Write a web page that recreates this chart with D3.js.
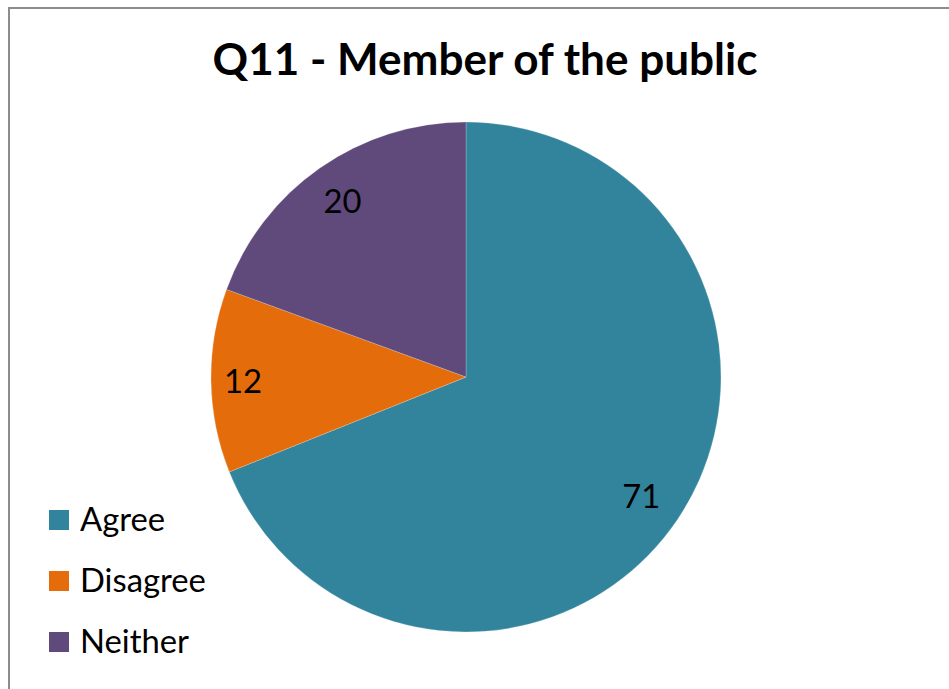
<!DOCTYPE html>
<html>
<head>
<meta charset="utf-8">
<script src="https://cdn.jsdelivr.net/npm/d3@7"></script>
<style>
  html, body { margin: 0; padding: 0; background: #fff; }
  svg { display: block; }
  text { font-family: Lato, "Open Sans", sans-serif; }
</style>
</head>
<body>
<script>
// Survey responses for Q11
const categories = ["Agree", "Disagree", "Neither"];
const values = [71, 12, 20];
const colors = ["#31849B", "#E46C0A", "#604A7B"];
const title = "Q11 - Member of the public";

const W = 949, H = 689;
const svg = d3.select("body").append("svg").attr("width", W).attr("height", H);

// outer chart frame (runs off the right and bottom edges)
svg.append("rect")
  .attr("x", 9).attr("y", 8).attr("width", W + 20).attr("height", H + 20)
  .attr("fill", "#fff").attr("stroke", "#8c8c8c").attr("stroke-width", 2);

// fit a text element to a target width
function fitWidth(sel, target, base) {
  sel.attr("font-size", base);
  const w = sel.node().getComputedTextLength();
  sel.attr("font-size", base * target / w);
}

const t = svg.append("text")
  .attr("x", 485).attr("y", 75)
  .attr("text-anchor", "middle")
  .attr("font-weight", "bold")
  .attr("fill", "#000")
  .text(title);
fitWidth(t, 545, 40);

const cx = 466, cy = 377, r = 255;
const pie = d3.pie().sort(null).value(d => d.value);
const data = categories.map((c, i) => ({ name: c, value: values[i], color: colors[i] }));
const arcs = pie(data);

const g = svg.append("g").attr("transform", `translate(${cx},${cy})`);
const arc = d3.arc().innerRadius(0).outerRadius(r);
g.selectAll("path.slice").data(arcs).join("path")
  .attr("class", "slice")
  .attr("d", arc)
  .attr("fill", d => d.data.color)
  .attr("stroke", "rgba(255,255,255,0.35)")
  .attr("stroke-width", 0.6);

// best-fit label distance from the centre, as a share of the radius
const labelDepth = [0.83, 0.875, 0.845];
g.selectAll("text.val").data(arcs).join("text")
  .attr("class", "val")
  .attr("transform", (d, i) => {
    const rr = r * labelDepth[i];
    return `translate(${d3.arc().innerRadius(rr).outerRadius(rr).centroid(d)})`;
  })
  .attr("text-anchor", "middle")
  .attr("dominant-baseline", "central")
  .attr("fill", "#000")
  .text(d => d.data.value);

// legend
const leg = svg.append("g");
const legItems = leg.selectAll("g").data(data).join("g")
  .attr("transform", (d, i) => `translate(49, ${510 + i * 61})`);
legItems.append("rect")
  .attr("width", 20).attr("height", 20)
  .attr("fill", d => d.color);
const legText = legItems.append("text")
  .attr("x", 31).attr("y", 21)
  .attr("fill", "#000")
  .text(d => d.name);
// size legend text so "Disagree" spans ~126px
const probe = legText.filter(d => d.name === "Disagree");
probe.attr("font-size", 30);
const pw = probe.node().getComputedTextLength();
const legSize = 30 * 126 / pw;
legText.attr("font-size", legSize);
g.selectAll("text.val").attr("font-size", legSize);
</script>
</body>
</html>
